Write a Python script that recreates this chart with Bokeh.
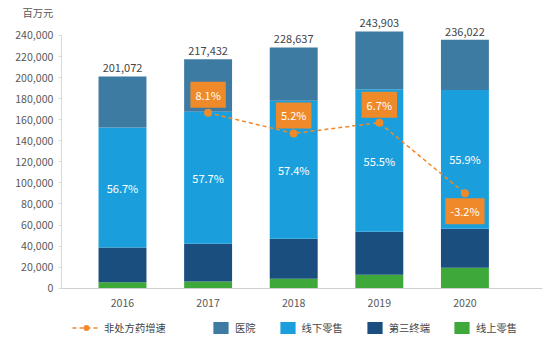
from bokeh.plotting import figure
from bokeh.models import (Range1d, NumeralTickFormatter, FixedTicker,
                          ColumnDataSource, Legend, LegendItem, Label)
from bokeh.core.properties import value
from bokeh.embed import file_html
from bokeh.resources import INLINE

years = ["2016", "2017", "2018", "2019", "2020"]
totals = [201072, 217432, 228637, 243903, 236022]
online = [5700, 6400, 8900, 12700, 19400]          # 线上零售
third = [32900, 35700, 38000, 40800, 37000]         # 第三终端
offline = [114008, 125458, 131238, 135366, 131936]  # 线下零售
hospital = [48464, 49874, 50499, 55037, 47686]      # 医院
offline_share = ["56.7%", "57.7%", "57.4%", "55.5%", "55.9%"]

growth_years = ["2017", "2018", "2019", "2020"]
growth = [8.1, 5.2, 6.7, -3.2]

FONT = "Noto Sans CJK SC"
C_HOSP = "#3e7ba2"
C_OFF = "#1b9fdc"
C_THIRD = "#1a4e7e"
C_ON = "#3ea83a"
C_ORANGE = "#ef8a2a"
GRAY = "#595959"

xs = list(range(len(years)))
src = ColumnDataSource(dict(x=xs, online=online, third=third, offline=offline,
                            hospital=hospital, totals=totals,
                            share=offline_share,
                            share_y=[a + b + c / 2 for a, b, c in zip(online, third, offline)]))

# the frame fills the canvas; axes are pinned at x=-0.713 / y=0
p = figure(width=555, height=361, output_backend="svg", toolbar_location=None,
           x_range=Range1d(-1.425, 5.058), y_range=Range1d(-69620, 273240),
           min_border=0)
p.outline_line_color = None
p.xgrid.visible = False
p.ygrid.visible = False
p.background_fill_color = None

p.add_layout(Label(x=22, y=349, x_units="screen", y_units="screen", text="百万元",
                   text_font=FONT, text_font_size="10.3px", text_color=GRAY,
                   text_baseline="middle"))

bars = p.vbar_stack(["online", "third", "offline", "hospital"], x="x", width=0.56,
                    color=[C_ON, C_THIRD, C_OFF, C_HOSP], line_color=None, source=src)

# share labels in the offline segment
p.text(x="x", y="share_y", text="share", source=src, text_font=value(FONT),
       text_font_size="11px", text_color="white", text_align="center",
       text_baseline="middle")

# total labels
src_tot = ColumnDataSource(dict(x=xs, y=totals, t=[f"{v:,}" for v in totals]))
p.text(x="x", y="y", text="t", source=src_tot, text_font=value(FONT),
       text_font_size="11px", text_color="#444444", text_align="center",
       text_baseline="bottom", y_offset=-4)

# growth line on a hidden secondary range
p.extra_y_ranges = {"g": Range1d(-26.77, 23.83)}
gx = [years.index(y) for y in growth_years]
gsrc = ColumnDataSource(dict(x=gx, y=growth, t=[f"{v}%" for v in growth],
                             off=[-18 if v > 0 else 18 for v in growth]))
gline = p.line(x="x", y="y", source=gsrc, y_range_name="g", color=C_ORANGE,
               line_width=1.5, line_dash="4 3")
gdots = p.scatter(x="x", y="y", source=gsrc, y_range_name="g", size=8,
                  color=C_ORANGE, line_color=None)
p.text(x="x", y="y", text="t", source=gsrc, y_range_name="g", y_offset="off",
       text_font=value(FONT), text_font_size="11px", text_color="white",
       text_align="center", text_baseline="middle",
       background_fill_color=C_ORANGE, padding=5)

# axes
p.xaxis.fixed_location = 0
p.xaxis.bounds = (-0.713, 4.907)
p.xaxis.ticker = FixedTicker(ticks=xs)
p.xaxis.major_label_overrides = {i: y for i, y in enumerate(years)}
p.xaxis.major_tick_line_color = None
p.xaxis.minor_tick_line_color = None
p.xaxis.axis_line_color = "#d0d0d0"
p.xaxis.major_label_standoff = 5
p.yaxis.fixed_location = -0.713
p.yaxis.ticker = FixedTicker(ticks=list(range(0, 240001, 20000)))
p.yaxis.bounds = (0, 240000)
p.yaxis.formatter = NumeralTickFormatter(format="0,0")
p.yaxis.axis_line_color = "#d9d9d9"
p.yaxis.major_tick_line_color = "#d9d9d9"
p.yaxis.major_tick_out = 3
p.yaxis.major_tick_in = 0
p.yaxis.minor_tick_line_color = None
p.yaxis.major_label_standoff = 5
for ax in (p.xaxis, p.yaxis):
    ax.major_label_text_font = FONT
    ax.major_label_text_font_size = "10.6px"
    ax.major_label_text_color = GRAY

# legends
leg_style = dict(orientation="horizontal", glyph_height=15, label_height=15,
                 padding=0, margin=0, border_line_color=None, background_fill_alpha=0,
                 label_text_font=FONT, label_text_font_size="10.3px",
                 label_text_color="#444444")
leg1 = Legend(items=[LegendItem(label="非处方药增速", renderers=[gline, gdots])],
              location=(72, 26), glyph_width=28, label_standoff=4, **leg_style)
leg2 = Legend(items=[LegendItem(label="医院", renderers=[bars[3]]),
                     LegendItem(label="线下零售", renderers=[bars[2]]),
                     LegendItem(label="第三终端", renderers=[bars[1]]),
                     LegendItem(label="线上零售", renderers=[bars[0]])],
              location=(211, 26), glyph_width=19, label_standoff=5, spacing=22,
              **leg_style)
p.add_layout(leg1)
p.add_layout(leg2)

open("out.html", "w").write(file_html(p, INLINE))
